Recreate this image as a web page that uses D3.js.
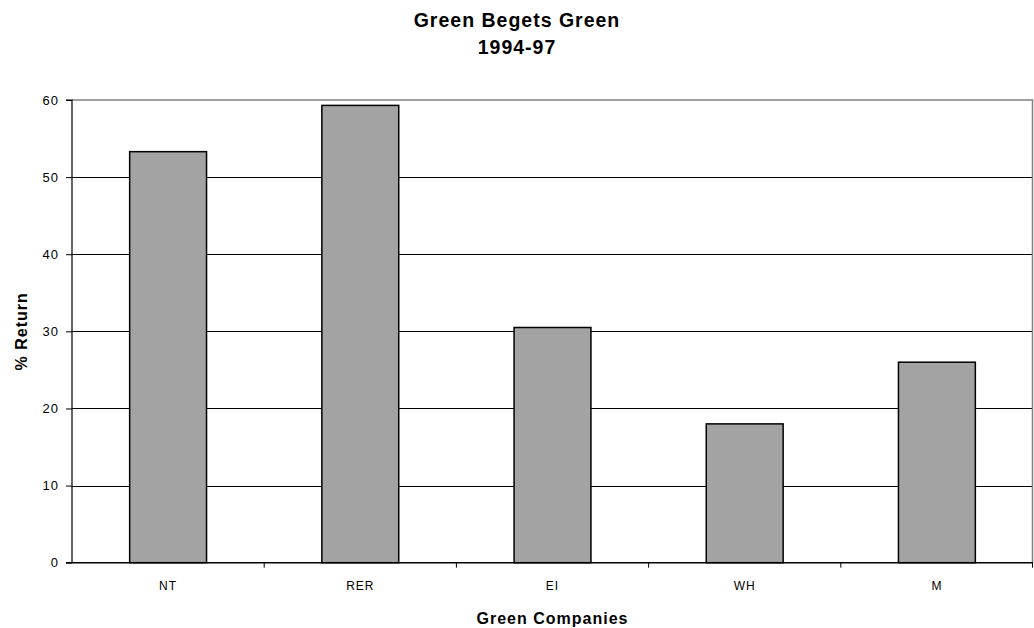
<!DOCTYPE html>
<html>
<head>
<meta charset="utf-8">
<script src="https://cdn.jsdelivr.net/npm/d3@7"></script>
<style>
  html, body { margin: 0; padding: 0; background: #fff; }
  svg { display: block; font-family: Arial, "Liberation Sans", sans-serif; }
</style>
</head>
<body>
<svg id="chart" width="1034" height="628"></svg>
<script>
const titleLines = ["Green Begets Green", "1994-97"];
const categories = ["NT", "RER", "EI", "WH", "M"];
const values = [53.3, 59.3, 30.5, 18.0, 26.0];
const yTicks = [0, 10, 20, 30, 40, 50, 60];
const xAxisLabel = "Green Companies";
const yAxisLabel = "% Return";

const W = 1034, H = 628;
const plot = { left: 72, right: 1033, top: 100, bottom: 562.7 };

const svg = d3.select("#chart");

const x = d3.scaleBand().domain(categories).range([plot.left, plot.right]).paddingInner(0).paddingOuter(0);
const y = d3.scaleLinear().domain([0, 60]).range([plot.bottom, plot.top]);

// gridlines
svg.append("g").selectAll("line").data(yTicks.filter(d => d > 0 && d < 60)).join("line")
  .attr("x1", plot.left).attr("x2", plot.right)
  .attr("y1", d => Math.round(y(d)) + 0.5).attr("y2", d => Math.round(y(d)) + 0.5)
  .attr("stroke", "#000").attr("stroke-width", 1);

// plot border top/right (gray)
svg.append("path")
  .attr("d", `M${plot.left},${y(60)}H${plot.right - 0.5}V${plot.bottom}`)
  .attr("fill", "none").attr("stroke", "#808080").attr("stroke-width", 1.5);

// bars
const bw = x.bandwidth() * 0.4;
svg.append("g").selectAll("rect").data(categories).join("rect")
  .attr("x", (d) => x(d) + (x.bandwidth() - bw) / 2)
  .attr("width", bw)
  .attr("y", (d, i) => y(values[i]))
  .attr("height", (d, i) => y(0) - y(values[i]))
  .attr("fill", "#a3a3a3")
  .attr("stroke", "#000").attr("stroke-width", 1.5);

// y axis
const yAxis = d3.axisLeft(y).tickValues(yTicks).tickSize(6).tickPadding(7).tickFormat(d3.format("d"));
const gy = svg.append("g").attr("transform", `translate(${plot.left},0)`).call(yAxis);
gy.select(".domain").attr("stroke", "#000").attr("stroke-width", 1.2).attr("d", `M-6,${plot.top}H0V${plot.bottom}H-6`);
gy.selectAll(".tick line").attr("stroke", "#000");
gy.selectAll("text").attr("font-size", 13).attr("letter-spacing", 1).attr("fill", "#000")
  .attr("font-family", "Arial, 'Liberation Sans', sans-serif");

// x axis with ticks at band boundaries
const xAxis = d3.axisBottom(x).tickSize(0).tickPadding(19);
const gx = svg.append("g").attr("transform", `translate(0,${plot.bottom})`).call(xAxis);
gx.select(".domain").attr("stroke", "#000").attr("stroke-width", 1.5).attr("d", `M${plot.left},0H${plot.right}`);
gx.selectAll("text").attr("font-size", 12).attr("letter-spacing", 1).attr("fill", "#000")
  .attr("font-family", "Arial, 'Liberation Sans', sans-serif");
const boundaries = categories.slice(1).map(c => x(c)).concat([plot.right - 0.5]);
gx.append("g").selectAll("line").data(boundaries).join("line")
  .attr("x1", d => d).attr("x2", d => d).attr("y1", 0).attr("y2", 5)
  .attr("stroke", "#000").attr("stroke-width", 1);

// title
svg.append("text").attr("x", W / 2).attr("text-anchor", "middle")
  .attr("font-weight", "bold").attr("font-size", 19.5).attr("letter-spacing", 1)
  .selectAll("tspan").data(titleLines).join("tspan")
  .attr("x", W / 2).attr("y", (d, i) => 27 + i * 26.5).text(d => d);

// x axis label
svg.append("text").attr("x", (plot.left + plot.right) / 2).attr("y", 624)
  .attr("text-anchor", "middle").attr("font-weight", "bold").attr("font-size", 16)
  .attr("letter-spacing", 1).text(xAxisLabel);

// y axis label
svg.append("text")
  .attr("transform", `translate(27,${(plot.top + plot.bottom) / 2}) rotate(-90)`)
  .attr("text-anchor", "middle").attr("font-weight", "bold").attr("font-size", 16)
  .attr("letter-spacing", 1).text(yAxisLabel);
</script>
</body>
</html>
